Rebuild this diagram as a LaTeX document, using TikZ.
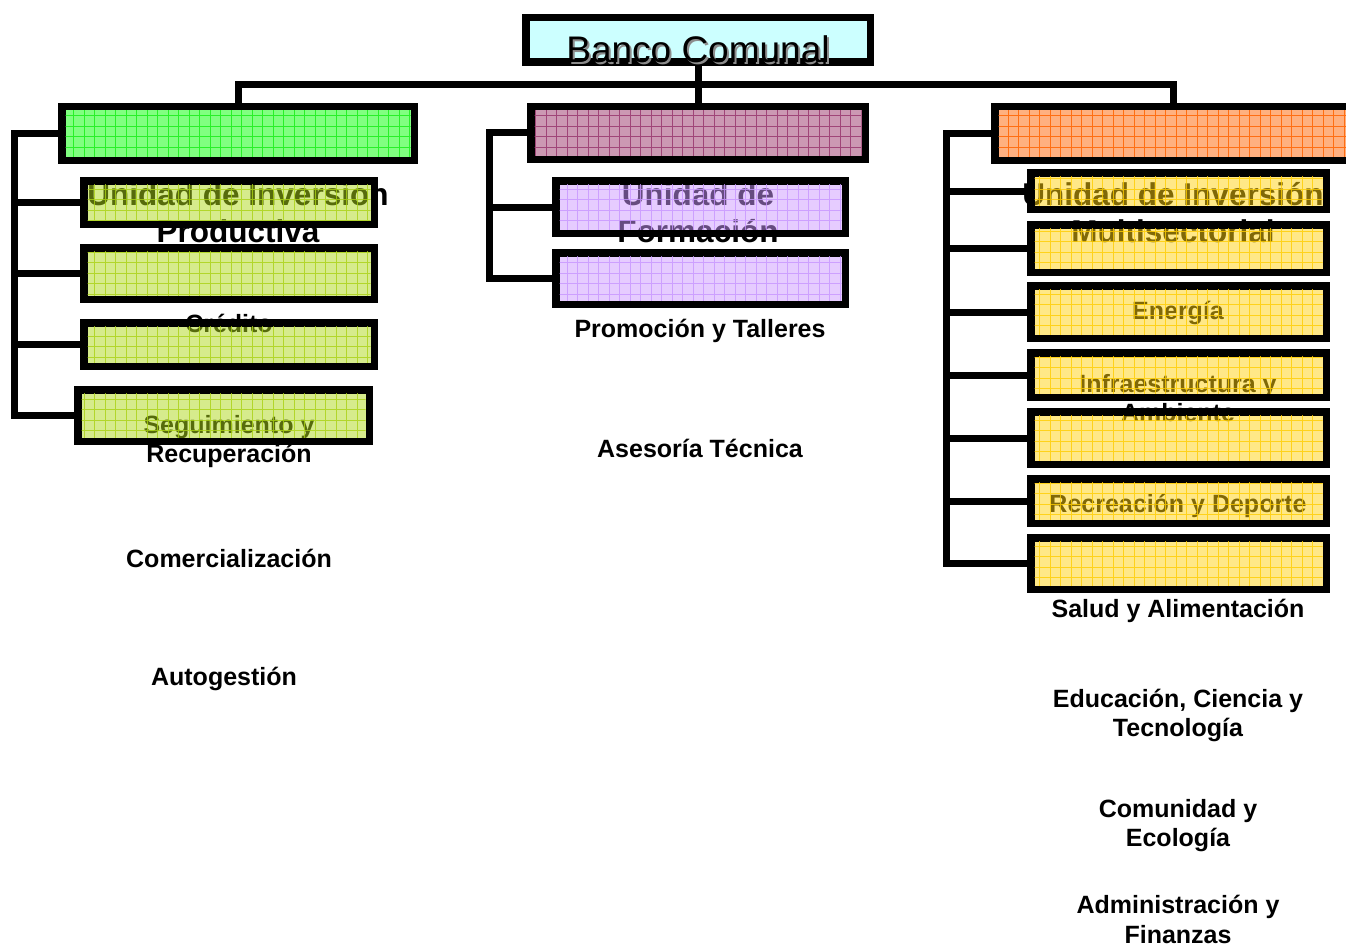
\documentclass[tikz,border=0pt]{standalone}
\usepackage{fontspec}
\setmainfont{Liberation Sans}
\newcommand\gbox[7]{%
  \node[#2, minimum width={(#6-#4-7.5)*1pt}, minimum height={(#7-#5-7.5)*1pt}] (#1) at ({(#4+#6)/2},{(#5+#7)/2}) {};
  \begin{scope}
    \clip ([shift={(3.75pt,-3.75pt)}]#1.north west) rectangle ([shift={(-3.75pt,3.75pt)}]#1.south east);
    \draw[#3, line width=0.7pt, step=10.5pt] (#4,#7) grid (#6,#5);
  \end{scope}
}
\begin{document}
\begin{tikzpicture}[x=1pt,y=-1pt,
  conn/.style={line width=7pt, line join=miter},
  boxbase/.style={draw=black, line width=7.5pt, inner sep=0pt, outer sep=0pt, rectangle},
  bigtxt/.style={font=\bfseries\fontsize{31.5}{37}\selectfont, align=center, anchor=base, inner sep=0pt},
  smalltxt/.style={font=\bfseries\fontsize{25}{29.5}\selectfont, align=center, anchor=base, inner sep=0pt},
  greenbox/.style={boxbase, fill={rgb,255:red,128;green,255;blue,128}},
  mauvebox/.style={boxbase, fill={rgb,255:red,204;green,153;blue,179}},
  orangebox/.style={boxbase, fill={rgb,255:red,255;green,176;blue,128}},
  lgbox/.style={boxbase, fill={rgb,255:red,173;green,215;blue,25}, fill opacity=0.5, draw opacity=1},
  lavbox/.style={boxbase, fill={rgb,255:red,205;green,153;blue,255}, fill opacity=0.5, draw opacity=1},
  yelbox/.style={boxbase, fill={rgb,255:red,255;green,209;blue,15}, fill opacity=0.5, draw opacity=1},
  ggreen/.style={draw={rgb,255:red,40;green,240;blue,40}},
  gmauve/.style={draw={rgb,255:red,160;green,70;blue,120}},
  gorange/.style={draw={rgb,255:red,255;green,110;blue,20}},
  glg/.style={draw={rgb,255:red,170;green,210;blue,20}, draw opacity=0.8},
  glav/.style={draw={rgb,255:red,200;green,150;blue,255}, draw opacity=0.8},
  gyel/.style={draw={rgb,255:red,255;green,205;blue,0}, draw opacity=0.8}
]
\useasboundingbox (0,0) rectangle (1346,947);

% ---- texts (behind the boxes); base anchor = baseline of last line ----
\node[bigtxt] (tUIP) at (238,242) {Unidad de Inversion\\Productiva};
\node[bigtxt] (tUF) at (698,242) {Unidad de\\Formación};
\node[bigtxt] (tUIM) at (1173,242) {Unidad de Inversión\\Multisectorial};

\node[smalltxt] (tCred) at (229,332) {Crédito};
\node[smalltxt] (tSeg) at (229,462.5) {Seguimiento y\\Recuperación};
\node[smalltxt] (tCom) at (229,567) {Comercialización};
\node[smalltxt] (tAut) at (224,685) {Autogestión};

\node[smalltxt] (tProm) at (700,337) {Promoción y Talleres};
\node[smalltxt] (tAse) at (700,457) {Asesoría Técnica};

\node[smalltxt] (tEne) at (1178,319) {Energía};
\node[smalltxt] (tInf) at (1178,421.5) {Infraestructura y\\Ambiente};
\node[smalltxt] (tRec) at (1178,512) {Recreación y Deporte};
\node[smalltxt] (tSal) at (1178,617) {Salud y Alimentación};
\node[smalltxt] (tEdu) at (1178,736.5) {Educación, Ciencia y\\Tecnología};
\node[smalltxt] (tCEc) at (1178,846.5) {Comunidad y\\Ecología};
\node[smalltxt] (tAdm) at (1178,943) {Administración y\\Finanzas};

% ---- top box ----
\node[boxbase, fill={rgb,255:red,204;green,255;blue,255}, minimum width={(874-522-7.5)*1pt}, minimum height={(66-14-7.5)*1pt}] (banco) at (698,40) {};

% ---- level 1 boxes ----
\gbox{green}{greenbox}{ggreen}{58}{103}{418}{164}
\gbox{mauve}{mauvebox}{gmauve}{527}{103}{869}{163}
\gbox{orange}{orangebox}{gorange}{991}{103}{1356}{164}

% ---- connectors ----
\coordinate (hbar) at (698,85);
\coordinate (lb) at (14.5,0);
\coordinate (mb) at (489.5,0);
\coordinate (rb) at (946.5,0);

\draw[conn] (banco.south) -- (mauve.north);
\draw[conn] (green.north) |- (hbar) -| (orange.north);

% ---- level 2 boxes: left ----
\gbox{l1}{lgbox}{glg}{80}{177}{378}{228}
\gbox{l2}{lgbox}{glg}{80}{244}{378}{303}
\gbox{l3}{lgbox}{glg}{80}{319}{378}{370}
\gbox{l4}{lgbox}{glg}{74}{386}{373}{445}

% ---- level 2 boxes: middle ----
\gbox{m1}{lavbox}{glav}{552}{177}{849}{237}
\gbox{m2}{lavbox}{glav}{552}{249}{849}{308}

% ---- level 2 boxes: right ----
\gbox{r1}{yelbox}{gyel}{1027}{169}{1330}{213}
\gbox{r2}{yelbox}{gyel}{1027}{221}{1330}{276}
\gbox{r3}{yelbox}{gyel}{1027}{282}{1330}{342}
\gbox{r4}{yelbox}{gyel}{1027}{349}{1330}{401}
\gbox{r5}{yelbox}{gyel}{1027}{408}{1330}{468}
\gbox{r6}{yelbox}{gyel}{1027}{475}{1330}{527}
\gbox{r7}{yelbox}{gyel}{1027}{534}{1330}{593}

% brackets
\draw[conn] (green.west) -| (lb |- l4.west) -- (l4.west);
\draw[conn] (lb |- l1.west) -- (l1.west);
\draw[conn] (lb |- l2.west) -- (l2.west);
\draw[conn] (lb |- l3.west) -- (l3.west);

\draw[conn] (mauve.west) -| (mb |- m2.west) -- (m2.west);
\draw[conn] (mb |- m1.west) -- (m1.west);

\draw[conn] (orange.west) -| (rb |- r7.west) -- (r7.west);
\draw[conn] (rb |- r1.west) -- (r1.west);
\draw[conn] (rb |- r2.west) -- (r2.west);
\draw[conn] (rb |- r3.west) -- (r3.west);
\draw[conn] (rb |- r4.west) -- (r4.west);
\draw[conn] (rb |- r5.west) -- (r5.west);
\draw[conn] (rb |- r6.west) -- (r6.west);

% ---- title text with shadow ----
\node[font=\fontsize{37}{44}\selectfont, anchor=base, inner sep=0pt, text=black!45] (bancoshadow) at (700,64.5) {Banco Comunal};
\node[font=\fontsize{37}{44}\selectfont, anchor=base, inner sep=0pt, text=black] (bancotxt) at (698,62.5) {Banco Comunal};
\end{tikzpicture}
\end{document}
